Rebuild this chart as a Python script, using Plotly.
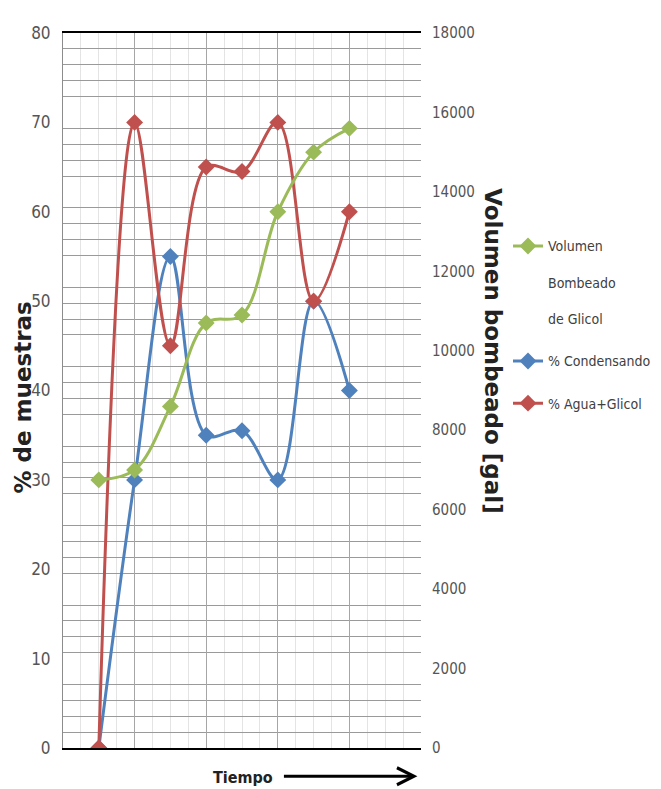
import plotly.graph_objects as go

# puntos en el tiempo (sin etiquetas en el eje)
tiempo = [1, 2, 3, 4, 5, 6, 7, 8]

volumen_glicol = [6750, 7000, 8600, 10700, 10900, 13500, 15000, 15600]
pct_condensando = [0, 30, 55, 35, 35.5, 30, 50, 40]
pct_agua_glicol = [0, 70, 45, 65, 64.5, 70, 50, 60]

nombres = ["Volumen<br> <br>Bombeado<br> <br>de Glicol", "% Condensando", "% Agua+Glicol"]
colores = ["#9BBB59", "#4F81BD", "#C0504D"]

FONT_NARROW = "DejaVu Sans Condensed, Liberation Sans Narrow, sans-serif"
FONT_BOLD = "DejaVu Sans, Verdana, sans-serif"

fig = go.Figure()


def add_serie(y, nombre, color, eje, grupo):
    fig.add_trace(go.Scatter(
        x=tiempo,
        y=y,
        name=nombre,
        yaxis=eje,
        mode="lines+markers",
        line=dict(color=color, width=3, shape="spline", smoothing=1),
        marker=dict(symbol="diamond", size=13, color=color),
        legendgroup=grupo,
    ))


add_serie(volumen_glicol, nombres[0], colores[0], "y2", "g1")
add_serie(pct_condensando, nombres[1], colores[1], "y", "g2")
add_serie(pct_agua_glicol, nombres[2], colores[2], "y", "g3")

fig.update_layout(
    width=653,
    height=781,
    margin=dict(l=55, r=240, t=25, b=41, autoexpand=False),
    paper_bgcolor="white",
    plot_bgcolor="white",
    font=dict(family=FONT_NARROW, size=17, color="#555555"),
    xaxis=dict(
        range=[0, 10],
        showticklabels=False,
        ticks="",
        dtick=2,
        showgrid=True,
        gridcolor="#a6a6a6",
        gridwidth=1,
        minor=dict(dtick=0.5, showgrid=True, gridcolor="#e4e4e4", gridwidth=1),
        showline=True,
        linecolor="black",
        linewidth=2,
        mirror=True,
        zeroline=False,
    ),
    yaxis=dict(
        range=[0, 80],
        dtick=10,
        showgrid=False,
        zeroline=False,
        showline=True,
        linecolor="#8c8c8c",
        linewidth=1,
        ticks="",
        ticklabelstandoff=8,
        automargin=False,
        tickfont=dict(family=FONT_NARROW, size=17, color="#555555"),
    ),
    yaxis2=dict(
        range=[0, 18000],
        dtick=2000,
        tickformat="d",
        overlaying="y",
        side="right",
        showgrid=False,
        zeroline=False,
        minor=dict(dtick=400, showgrid=True, gridcolor="#9a9a9a", gridwidth=1),
        ticks="",
        ticklabelstandoff=10,
        automargin=False,
        tickfont=dict(family=FONT_NARROW, size=15, color="#555555"),
    ),
    showlegend=True,
    legend=dict(
        x=1.243,
        xanchor="left",
        y=0.724,
        yanchor="top",
        traceorder="grouped",
        tracegroupgap=21,
        valign="top",
        itemwidth=30,
        bgcolor="rgba(0,0,0,0)",
        font=dict(family=FONT_NARROW, size=14, color="#404040"),
    ),
    annotations=[
        dict(
            text="<b>% de muestras</b>",
            xref="paper", yref="paper",
            x=-0.112, y=0.49,
            xanchor="center", yanchor="middle",
            textangle=-90,
            showarrow=False,
            font=dict(family=FONT_BOLD, size=23, color="#222222"),
        ),
        dict(
            text="<b>Volumen bombeado [gal]</b>",
            xref="paper", yref="paper",
            x=1.201, y=0.555,
            xanchor="center", yanchor="middle",
            textangle=90,
            showarrow=False,
            font=dict(family=FONT_BOLD, size=23, color="#222222"),
        ),
        dict(
            text="<b>Tiempo</b>",
            xref="paper", yref="paper",
            x=0.503, y=-0.0406,
            xanchor="center", yanchor="middle",
            showarrow=False,
            font=dict(family=FONT_NARROW, size=16, color="#222222"),
        ),
        dict(
            text="",
            xref="paper", yref="paper",
            x=0.99, y=-0.0395,
            ax=-135, ay=0,
            showarrow=True,
            arrowhead=5,
            arrowsize=1.1,
            arrowwidth=3,
            arrowcolor="black",
        ),
    ],
)

fig.write_html("out.html")
